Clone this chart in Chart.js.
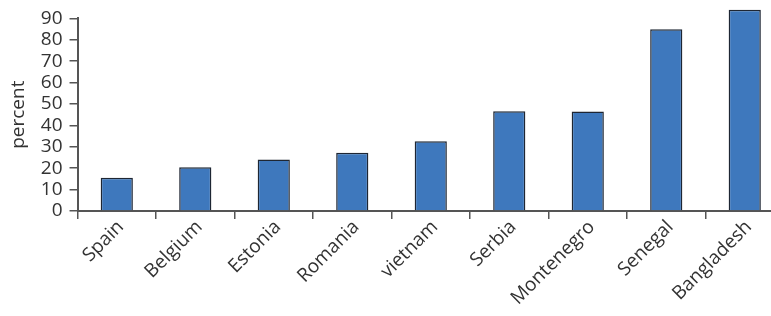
<!DOCTYPE html>
<html>
<head>
<meta charset="utf-8">
<script src="https://cdn.jsdelivr.net/npm/chart.js@4"></script>
<style>
  html, body { margin: 0; padding: 0; background: #fff; overflow: hidden; }
  #wrap { width: 784px; height: 316px; position: relative; }
</style>
</head>
<body>
<div id="wrap"><canvas id="chart"></canvas></div>
<script>
/* ── DATA ── */
var countries = ['Spain', 'Belgium', 'Estonia', 'Romania', 'vietnam', 'Serbia', 'Montenegro', 'Senegal', 'Bangladesh'];
var percentValues = [15.5, 20.4, 24.1, 27.2, 32.6, 46.6, 46.5, 84.9, 94.1];
var yTicks = [0, 10, 20, 30, 40, 50, 60, 70, 80, 90];

var AXIS_COLOR = '#555555';
var TEXT_COLOR = '#333333';
var FAMILY = "'Open Sans', sans-serif";

var ctx = document.getElementById('chart').getContext('2d');
new Chart(ctx, {
  type: 'bar',
  data: {
    labels: countries,
    datasets: [{
      data: percentValues,
      backgroundColor: '#3e78bd',
      borderColor: '#1e2633',
      borderWidth: 1.5,
      categoryPercentage: 1,
      barPercentage: 0.41,
      clip: false
    }]
  },
  options: {
    responsive: true,
    maintainAspectRatio: false,
    animation: false,
    layout: { padding: { top: 18, right: 0, left: 7, bottom: 0 } },
    plugins: {
      legend: { display: false },
      tooltip: { enabled: false }
    },
    scales: {
      x: {
        afterFit: function(axis) { axis.height = 105; },
        grid: { offset: true, drawOnChartArea: false, drawTicks: true, tickLength: 8, color: AXIS_COLOR, lineWidth: 1.5 },
        border: { color: AXIS_COLOR, width: 2 },
        ticks: { color: TEXT_COLOR, font: { family: FAMILY, size: 19 }, minRotation: 45, maxRotation: 45, padding: -3, labelOffset: 4, autoSkip: false }
      },
      y: {
        min: 0,
        max: 90,
        afterBuildTicks: function(axis) {
          axis.ticks = yTicks.map(function(v) { return { value: v }; });
        },
        grid: { drawOnChartArea: false, drawTicks: true, tickLength: 8, color: AXIS_COLOR, lineWidth: 1.5 },
        border: { color: AXIS_COLOR, width: 2 },
        ticks: { color: TEXT_COLOR, font: { family: FAMILY, size: 19 }, padding: 7, autoSkip: false },
        title: { display: true, text: 'percent', color: TEXT_COLOR, font: { family: FAMILY, size: 19 }, padding: { top: 0, bottom: 4 } }
      }
    }
  }
});
</script>
</body>
</html>
